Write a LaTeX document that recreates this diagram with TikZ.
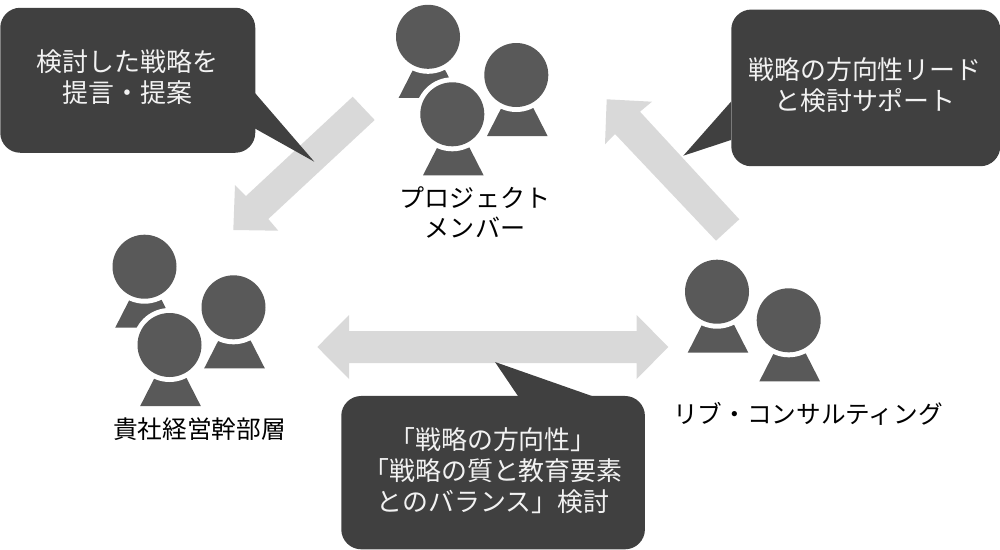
\documentclass[tikz,border=0pt]{standalone}
\usepackage{fontspec}
\setmainfont{Noto Sans CJK JP}
\definecolor{calloutfill}{HTML}{404040}
\definecolor{personfill}{HTML}{595959}
\definecolor{arrowfill}{HTML}{D9D9D9}
\definecolor{callouttext}{HTML}{F2F2F2}
\tikzset{
  x=0.75pt,y=-0.75pt,
  blockarrow/.style={fill=arrowfill,draw=none},
  calloutbox/.style={rectangle,rounded corners=15pt,fill=calloutfill,draw=none,inner sep=0pt,anchor=north west},
  callouttail/.style={fill=calloutfill,draw=none},
  callouttxt/.style={text=callouttext,align=center,inner sep=0pt,font=\fontsize{19.45}{23.25}\selectfont},
  labeltxt/.style={text=black,align=center,inner sep=0pt,font=\fontsize{18.5}{22.5}\selectfont},
  headring/.style={circle,fill=white,draw=none,inner sep=0pt,minimum size=55.5pt},
  headdisc/.style={circle,fill=personfill,draw=none,inner sep=0pt,minimum size=48pt},
  person/.pic={
    \fill[personfill] (1,33) -- ++(-16,0) -- (-29.3,61) -- (31.3,61) -- (17,33) -- cycle;
    \node[headring] (-ring) at (0,0) {};
    \node[headdisc] (-head) at (0,0) {};
  }
}
\begin{document}
\begin{tikzpicture}
\useasboundingbox (0,0) rectangle (1000,550);
% block arrows
\fill[blockarrow] (352.7,96.7) -- (246,196) -- (235,185) -- (233.3,230) -- (278.3,230.7) -- (268.3,219) -- (374.7,120) -- cycle;
\fill[blockarrow] (739.3,219.3) -- (640,111.7) -- (652,101.7) -- (606.7,99.3) -- (605,144.3) -- (615,134) -- (716,240.7) -- cycle;
\fill[blockarrow] (317.3,347) -- (349,315) -- (349,331) -- (636.7,331) -- (636.7,315) -- (668.3,347) -- (636.7,379) -- (636.7,363) -- (349,363) -- (349,379) -- cycle;
% people
\pic (proja) at (428,36.8) {person};
\pic (projb) at (516.3,75) {person};
\pic (projc) at (452.3,114.3) {person};
\pic (execa) at (144.5,266.7) {person};
\pic (execb) at (233.5,307.3) {person};
\pic (execc) at (169.5,345) {person};
\pic (liba) at (717,291.7) {person};
\pic (libb) at (788.7,320.3) {person};
% callouts
\fill[callouttail] (255,93) -- (314.3,161.7) -- (255,128.5) -- cycle;
\node[calloutbox,minimum width=191.25pt,minimum height=108.75pt] (boxa) at (0,7.5) {};
\fill[callouttail] (731,101.7) -- (683.3,155.7) -- (731,140) -- cycle;
\node[calloutbox,minimum width=201.75pt,minimum height=117.5pt] (boxb) at (731,9.3) {};
\fill[callouttail] (518.3,396.5) -- (495,362) -- (593.3,396.5) -- cycle;
\node[calloutbox,minimum width=227.75pt,minimum height=115pt] (boxc) at (341,395.7) {};
% callout text
\node[callouttxt] (txta) at (127.5,77) {検討した戦略を\\提言・提案};
\node[callouttxt] (txtb) at (865,85) {戦略の方向性リード\\と検討サポート};
\node[callouttxt] (txtc) at (493,470.5) {「戦略の方向性」\\「戦略の質と教育要素\\とのバランス」検討};
% labels
\node[labeltxt,font=\fontsize{18.8}{22.5}\selectfont] (labproj) at (475,212) {プロジェクト\\メンバー};
\node[labeltxt] (labexec) at (199.5,429) {貴社経営幹部層};
\node[labeltxt] (lablib) at (808,414) {リブ・コンサルティング};
\end{tikzpicture}
\end{document}
